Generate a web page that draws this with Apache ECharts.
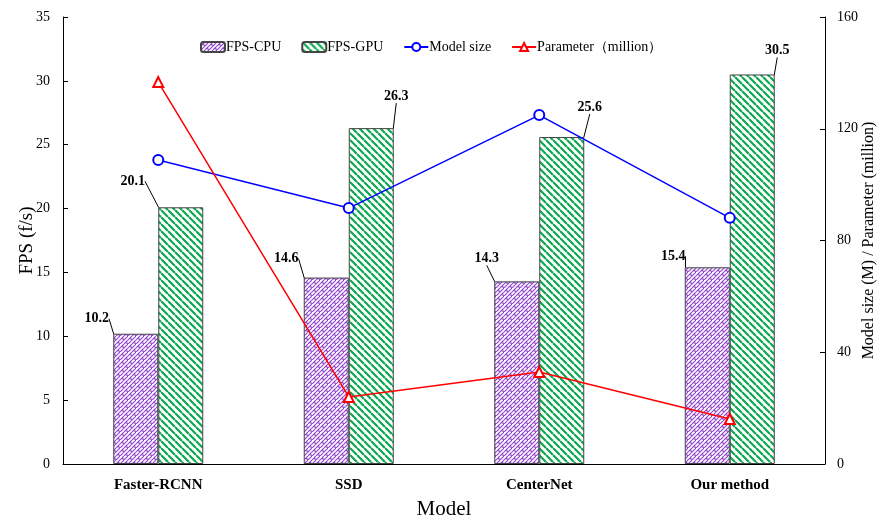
<!DOCTYPE html>
<html>
<head>
<meta charset="utf-8">
<script src="https://cdn.jsdelivr.net/npm/echarts@6/dist/echarts.min.js"></script>
<style>
  html, body { margin: 0; padding: 0; background: #fff; }
  #chart { width: 883px; height: 521px; }
</style>
</head>
<body>
<div id="chart"></div>
<script>
var categories = ['Faster-RCNN', 'SSD', 'CenterNet', 'Our method'];
var fpsCpu = [10.2, 14.6, 14.3, 15.4];
var fpsGpu = [20.1, 26.3, 25.6, 30.5];
var modelSize = [108.8, 91.6, 124.9, 88.1];
var params = [136.7, 24.0, 32.9, 16.1];
var leftTicks = [0, 35, 5];
var rightTicks = [0, 160, 40];

var FONT = '"Liberation Serif", "Times New Roman", serif';

// purple brick-ish hatch
function cpuPattern() {
  var c = document.createElement('canvas');
  c.width = 8; c.height = 8;
  var g = c.getContext('2d');
  g.fillStyle = '#fff';
  g.fillRect(0, 0, 8, 8);
  g.strokeStyle = '#9446d0';
  g.lineWidth = 1.2;
  g.beginPath();
  g.moveTo(0, 8); g.lineTo(8, 0);
  g.moveTo(-4, 8); g.lineTo(4, 0);
  g.moveTo(4, 8); g.lineTo(12, 0);
  g.moveTo(2, 2); g.lineTo(4, 4);
  g.moveTo(6, 6); g.lineTo(8, 8);
  g.moveTo(-2, 6); g.lineTo(0, 8);
  g.stroke();
  return c;
}

// green diagonal stripes
function gpuPattern() {
  var c = document.createElement('canvas');
  c.width = 7; c.height = 7;
  var g = c.getContext('2d');
  g.fillStyle = '#fff';
  g.fillRect(0, 0, 7, 7);
  g.strokeStyle = '#0aa850';
  g.lineWidth = 2.2;
  g.beginPath();
  g.moveTo(0, 0); g.lineTo(7, 7);
  g.moveTo(-7, 0); g.lineTo(0, 7);
  g.moveTo(0, -7); g.lineTo(7, 0);
  g.stroke();
  return c;
}

var chart = echarts.init(document.getElementById('chart'));

var labelStyle = {
  show: true,
  position: 'top',
  color: '#000',
  fontFamily: FONT,
  fontWeight: 'bold',
  fontSize: 14
};

// label nudges (callout style, like the original figure)
var cpuShift = [[-39, -3], [-40, -7], [-30, -11], [-34, 1]];
var gpuShift = [[-48, -14], [25, -20], [28, -18], [25, -12]];

chart.setOption({
  backgroundColor: '#fff',
  animation: false,
  textStyle: { fontFamily: FONT },
  grid: { left: 63, right: 58, top: 17, bottom: 57, containLabel: false, outerBoundsMode: 'none' },
  legend: {
    top: 35,
    left: 195,
    itemWidth: 24,
    itemHeight: 10,
    itemGap: 20,
    textStyle: { fontFamily: FONT, fontSize: 14, color: '#000', padding: [0, 0, 0, -4] },
    data: ['FPS-CPU', 'FPS-GPU', 'Model size', 'Parameter（million）']
  },
  xAxis: {
    type: 'category',
    data: categories,
    name: 'Model',
    nameLocation: 'middle',
    nameGap: 35,
    nameMoveOverlap: false,
    nameTextStyle: { fontFamily: FONT, fontSize: 21, color: '#000' },
    axisLine: { lineStyle: { color: '#000', width: 1 } },
    axisTick: { show: false },
    axisLabel: { color: '#000', fontFamily: FONT, fontWeight: 'bold', fontSize: 15, margin: 14 }
  },
  yAxis: [{
    type: 'value',
    min: leftTicks[0], max: leftTicks[1], interval: leftTicks[2],
    name: 'FPS (f/s)',
    nameLocation: 'middle',
    nameGap: 26,
    nameMoveOverlap: false,
    nameTextStyle: { fontFamily: FONT, fontSize: 19, color: '#000' },
    axisLine: { show: true, lineStyle: { color: '#000' } },
    axisTick: { show: true, inside: true, length: 5, lineStyle: { color: '#000' } },
    axisLabel: { color: '#000', fontFamily: FONT, fontSize: 14, margin: 13 },
    splitLine: { show: false }
  }, {
    type: 'value',
    min: rightTicks[0], max: rightTicks[1], interval: rightTicks[2],
    name: 'Model size (M) / Parameter (million)',
    nameLocation: 'middle',
    nameGap: 36,
    nameMoveOverlap: false,
    nameTextStyle: { fontFamily: FONT, fontSize: 16, color: '#000' },
    axisLine: { show: true, lineStyle: { color: '#000' } },
    axisTick: { show: true, inside: true, length: 5, lineStyle: { color: '#000' } },
    axisLabel: { color: '#000', fontFamily: FONT, fontSize: 14, margin: 12 },
    splitLine: { show: false }
  }],
  series: [{
    name: 'FPS-CPU',
    type: 'bar',
    data: fpsCpu,
    barWidth: 45,
    barGap: '0%',
    itemStyle: { color: { image: cpuPattern(), repeat: 'repeat' }, borderColor: '#444', borderWidth: 1 },
    label: labelStyle,
    labelLine: { show: true, lineStyle: { color: '#000', width: 1 } },
    labelLayout: function (p) {
      var s = cpuShift[p.dataIndex];
      return { dx: s[0], dy: s[1] };
    }
  }, {
    name: 'FPS-GPU',
    type: 'bar',
    data: fpsGpu,
    barWidth: 45,
    itemStyle: { color: { image: gpuPattern(), repeat: 'repeat' }, borderColor: '#444', borderWidth: 1 },
    label: labelStyle,
    labelLine: { show: true, lineStyle: { color: '#000', width: 1 } },
    labelLayout: function (p) {
      var s = gpuShift[p.dataIndex];
      return { dx: s[0], dy: s[1] };
    }
  }, {
    name: 'Model size',
    type: 'line',
    yAxisIndex: 1,
    data: modelSize,
    symbol: 'emptyCircle',
    symbolSize: 10,
    lineStyle: { color: '#0000ff', width: 1.5 },
    itemStyle: { color: '#0000ff', borderWidth: 1.5 }
  }, {
    name: 'Parameter（million）',
    type: 'line',
    yAxisIndex: 1,
    data: params,
    symbol: 'emptyTriangle',
    symbolSize: 10,
    lineStyle: { color: '#ff0000', width: 1.5 },
    itemStyle: { color: '#ff0000', borderWidth: 1.5 }
  }]
});
</script>
</body>
</html>
